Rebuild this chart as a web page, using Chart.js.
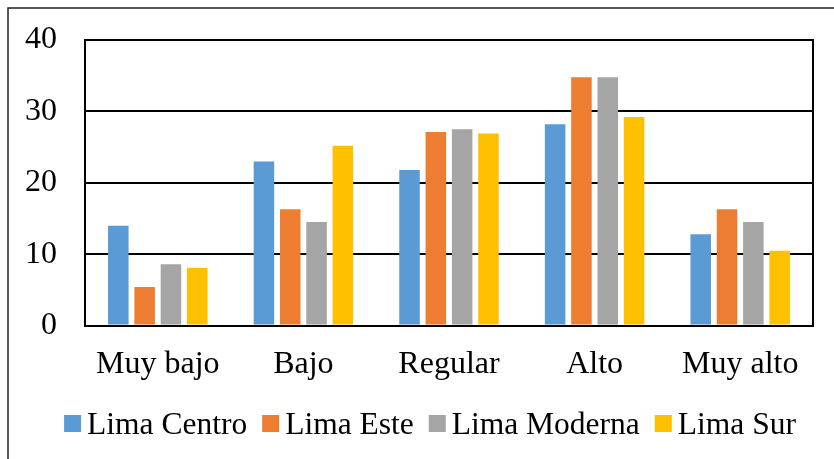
<!DOCTYPE html>
<html>
<head>
<meta charset="utf-8">
<script src="https://cdn.jsdelivr.net/npm/chart.js@4"></script>
<style>
  html, body { margin: 0; padding: 0; background: #fff; }
  #wrap { width: 834px; height: 459px; }
</style>
</head>
<body>
<div id="wrap"><canvas id="chart" width="834" height="459"></canvas></div>
<script>
// Niveles por zona de Lima
const categories = ['Muy bajo', 'Bajo', 'Regular', 'Alto', 'Muy alto'];
const limaCentro  = [14.0, 23.0, 21.8, 28.2, 12.8];
const limaEste    = [5.4, 16.3, 27.1, 34.8, 16.3];
const limaModerna = [8.6, 14.5, 27.5, 34.8, 14.5];
const limaSur     = [8.1, 25.2, 26.9, 29.2, 10.5];
const seriesNames = ['Lima Centro', 'Lima Este', 'Lima Moderna', 'Lima Sur'];
const yTicks = [0, 10, 20, 30, 40];

const FONT = '"Liberation Serif", "Times New Roman", serif';
const colors = ['#5B9BD5', '#ED7D31', '#A5A5A5', '#FFC000'];

// Outer frame and plot rectangle
const framePlugin = {
  id: 'frame',
  beforeDraw(chart) {
    const ctx = chart.ctx;
    ctx.save();
    ctx.fillStyle = '#fff';
    ctx.fillRect(0, 0, chart.width, chart.height);
    ctx.strokeStyle = '#222';
    ctx.lineWidth = 1.5;
    ctx.strokeRect(8, 8, 1000, 1000);
    ctx.restore();
  },
  afterDraw(chart) {
    const a = chart.chartArea;
    const ctx = chart.ctx;
    ctx.save();
    ctx.strokeStyle = '#000';
    ctx.lineWidth = 2;
    ctx.beginPath();
    ctx.moveTo(a.left, a.top);
    ctx.lineTo(a.right, a.top);
    ctx.lineTo(a.right, a.bottom);
    ctx.stroke();
    ctx.restore();
  }
};

// Legend row below the axis
const legendPlugin = {
  id: 'bottomLegend',
  afterDraw(chart) {
    const ctx = chart.ctx;
    const items = chart.data.datasets.map(ds => ({ text: ds.label, color: ds.backgroundColor }));
    const box = 17, gapText = 6, gapItem = 15, centerX = 430, baseY = 434;
    ctx.save();
    ctx.font = '31.5px ' + FONT;
    let total = 0;
    items.forEach((it, i) => {
      it.w = ctx.measureText(it.text).width;
      total += box + gapText + it.w + (i ? gapItem : 0);
    });
    let x = centerX - total / 2;
    ctx.textBaseline = 'alphabetic';
    ctx.textAlign = 'left';
    items.forEach(it => {
      ctx.fillStyle = it.color;
      ctx.fillRect(x, 415, box, box);
      ctx.fillStyle = '#000';
      ctx.fillText(it.text, x + box + gapText, baseY);
      x += box + gapText + it.w + gapItem;
    });
    ctx.restore();
  }
};

const seriesValues = [limaCentro, limaEste, limaModerna, limaSur];

new Chart(document.getElementById('chart'), {
  type: 'bar',
  data: {
    labels: categories,
    datasets: seriesNames.map((name, i) => ({
      label: name,
      data: seriesValues[i],
      backgroundColor: colors[i],
      borderWidth: 0,
      categoryPercentage: 0.723,
      barPercentage: 0.78
    }))
  },
  options: {
    responsive: false,
    animation: false,
    devicePixelRatio: 1,
    layout: { padding: { left: 25, right: 21, top: 40, bottom: 55 } },
    plugins: {
      legend: { display: false },
      tooltip: { enabled: false }
    },
    scales: {
      x: {
        grid: { display: false, drawTicks: false },
        border: { display: true, color: '#000', width: 2 },
        ticks: { color: '#000', font: { family: FONT, size: 32 }, padding: 20, maxRotation: 0 }
      },
      y: {
        min: yTicks[0],
        max: yTicks[yTicks.length - 1],
        afterBuildTicks(scale) { scale.ticks = yTicks.map(v => ({ value: v })); },
        afterFit(scale) { scale.width = 60; scale.paddingTop = 0; scale.paddingBottom = 0; },
        grid: { color: '#000', lineWidth: 2, drawTicks: false },
        border: { display: true, color: '#000', width: 2 },
        ticks: { color: '#000', font: { family: FONT, size: 32 }, padding: 28 }
      }
    }
  },
  plugins: [framePlugin, legendPlugin]
});
</script>
</body>
</html>
